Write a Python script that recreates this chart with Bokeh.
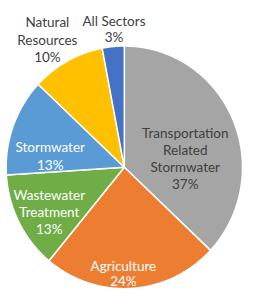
import numpy as np
from bokeh.plotting import figure
from bokeh.models import Range1d, ColumnDataSource
from bokeh.core.properties import value
from bokeh.embed import file_html
from bokeh.resources import INLINE

# ---- data ----
sectors = ["Transportation Related Stormwater", "Agriculture", "Wastewater Treatment",
           "Stormwater", "Natural Resources", "All Sectors"]
label_lines = [["Transportation", "Related", "Stormwater"], ["Agriculture"],
               ["Wastewater", "Treatment"], ["Stormwater"], ["Natural", "Resources"],
               ["All Sectors"]]
shares = [37, 24, 13, 13, 10, 3]

# ---- styles / layout ----
colors = ["#A5A5A5", "#ED7D31", "#70AD47", "#5B9BD5", "#FFC000", "#4472C4"]
text_colors = ["#404040", "#FFFFFF", "#FFFFFF", "#FFFFFF", "#404040", "#404040"]
# label anchor (reference px): centre x, baseline of first line
label_px = [197, 131, 52, 53, 50, 121]
label_py = [140, 280, 205, 155, 23, 22]
line_h = [18, 16, 18, 19, 18.5, 17]

REF_W, REF_H = 258, 307
W, H = 242, 291
cx, cy_px, RX, RY = 132, 176, 126, 128

p = figure(width=W, height=H, output_backend="svg", toolbar_location=None,
           x_range=Range1d(0, REF_W), y_range=Range1d(0, REF_H),
           min_border=0)
p.axis.visible = False
p.grid.visible = False
p.outline_line_color = None
p.background_fill_color = "white"
p.border_fill_color = "white"

# slices: angle measured clockwise from 12 o'clock
frac = np.array(shares, dtype=float) / sum(shares)
cum = np.cumsum(frac)
prev = np.concatenate([[0.0], cum[:-1]])
xs, ys = [], []
cy = REF_H - cy_px
for a0, a1 in zip(prev, cum):
    n = max(8, int(400 * (a1 - a0)))
    t = np.linspace(a0, a1, n) * 2 * np.pi
    xs.append(np.concatenate([[cx], cx + RX * np.sin(t)]).tolist())
    ys.append(np.concatenate([[cy], cy + RY * np.cos(t)]).tolist())
src = ColumnDataSource(dict(xs=xs, ys=ys, sector=sectors, color=colors))
p.patches("xs", "ys", fill_color="color", line_color="white", line_width=1.5,
          line_join="round", source=src)

tx, ty, tt, tc = [], [], [], []
for i, lines in enumerate(label_lines):
    all_lines = lines + [f"{shares[i]}%"]
    for j, t in enumerate(all_lines):
        tx.append(label_px[i])
        ty.append(REF_H - (label_py[i] + j * line_h[i]))
        tt.append(t)
        tc.append(text_colors[i])
p.text(x=tx, y=ty, text=tt, text_color=tc, text_align="center",
       text_baseline="alphabetic", text_font=value("Lato"),
       text_font_size="13.5px")

open("out.html", "w").write(file_html(p, INLINE))
